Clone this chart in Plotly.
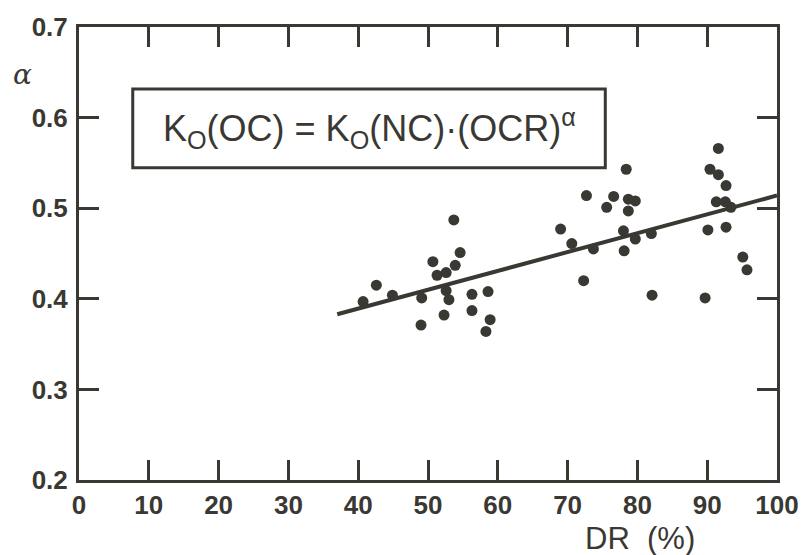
import plotly.graph_objects as go

# Data
dr = [40.7, 42.6, 44.9, 49.1, 49.0, 50.7, 51.3, 52.6, 52.6, 53.0, 52.3, 53.9, 53.7, 54.6, 56.3, 56.3, 58.6, 58.9, 58.3,
      69.0, 70.6, 72.3, 72.7, 73.7, 75.6, 76.6, 78.4, 78.7, 78.7, 79.7, 78.0, 78.1, 79.7, 82.0, 82.1,
      89.7, 90.1, 90.4, 91.3, 91.6, 91.6, 92.6, 92.7, 92.7, 93.4, 95.1, 95.7]
alpha = [0.397, 0.415, 0.404, 0.401, 0.371, 0.441, 0.426, 0.429, 0.409, 0.399, 0.382, 0.437, 0.487, 0.451, 0.405, 0.387, 0.408, 0.377, 0.364,
         0.477, 0.461, 0.420, 0.514, 0.455, 0.501, 0.513, 0.543, 0.510, 0.497, 0.508, 0.475, 0.453, 0.466, 0.472, 0.404,
         0.401, 0.476, 0.543, 0.507, 0.566, 0.537, 0.507, 0.525, 0.479, 0.501, 0.446, 0.432]

fit_dr = [37, 100]
fit_alpha = [0.383, 0.514]

x_ticks = [0, 10, 20, 30, 40, 50, 60, 70, 80, 90, 100]
y_ticks = [0.2, 0.3, 0.4, 0.5, 0.6, 0.7]

INK = "#3a3833"
FONT = "Liberation Sans"

fig = go.Figure()
fig.add_trace(go.Scatter(x=fit_dr, y=fit_alpha, mode="lines",
                         line=dict(color=INK, width=4), hoverinfo="skip"))
fig.add_trace(go.Scatter(x=dr, y=alpha, mode="markers",
                         marker=dict(color=INK, size=11)))

axis_common = dict(showline=True, linecolor=INK, linewidth=3, mirror="ticks",
                   ticks="inside", ticklen=20, tickwidth=2.5, tickcolor=INK,
                   showgrid=False, zeroline=False)

fig.update_xaxes(range=[0, 100], tickvals=x_ticks, ticktext=[str(v) for v in x_ticks],
                 ticklabelstandoff=0,
                 tickfont=dict(family=FONT, size=26, color=INK, weight="bold"),
                 **axis_common)
fig.update_yaxes(range=[0.2, 0.7], tickvals=y_ticks, ticktext=[f"{v:.1f}" for v in y_ticks],
                 ticklabelstandoff=3,
                 tickfont=dict(family=FONT, size=26, color=INK, weight="bold"),
                 **axis_common)

# Equation box
fig.add_shape(type="rect", xref="x", yref="y", x0=7.7, x1=75.4, y0=0.5446, y1=0.6315,
              line=dict(color=INK, width=3), fillcolor="white", layer="below")
fig.add_annotation(xref="x", yref="y", x=41.6, y=0.588, showarrow=False,
                   xanchor="center", yanchor="middle",
                   text="K<sub>O</sub>(OC) = K<sub>O</sub>(NC)·(OCR)<sup>α</sup>",
                   font=dict(family=FONT, size=36, color=INK))

# Axis labels
fig.add_annotation(xref="paper", yref="paper", x=-0.081, y=0.896, showarrow=False,
                   xanchor="center", yanchor="middle",
                   text="<i>α</i>", font=dict(family="DejaVu Serif", size=28, color=INK))
fig.add_annotation(xref="paper", yref="paper", x=0.804, y=-0.13, showarrow=False,
                   xanchor="center", yanchor="middle",
                   text="DR  (%)", font=dict(family=FONT, size=31, color=INK))

fig.update_layout(width=811, height=555, showlegend=False,
                  margin=dict(l=79, r=32, t=20, b=75),
                  paper_bgcolor="white", plot_bgcolor="white")

fig.write_html("out.html")
